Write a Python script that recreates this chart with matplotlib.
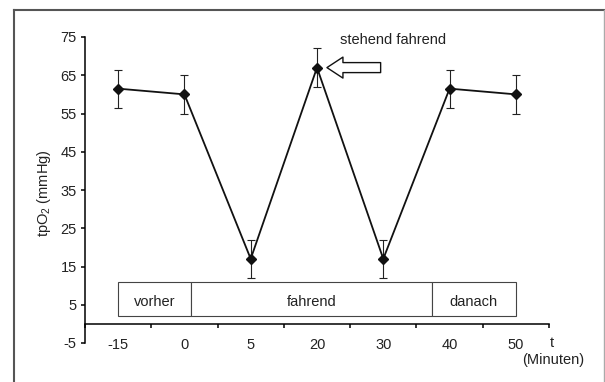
import matplotlib
matplotlib.use("Agg")
import matplotlib.pyplot as plt
from matplotlib.patches import Rectangle
from matplotlib.lines import Line2D

plt.rcParams['font.family'] = ['Liberation Sans', 'DejaVu Sans']
plt.rcParams['axes.unicode_minus'] = False
plt.rcParams['mathtext.default'] = 'regular'

# Daten aus dem Diagramm
zeit_labels = ["-15", "0", "5", "20", "30", "40", "50"]
tpo2_mittel = [61.5, 60, 17, 67, 17, 61.5, 60]
tpo2_fehler = [5, 5, 5, 5, 5, 5, 5]

# Phasen-Kasten (Kategorie-Koordinaten)
phasen = ["vorher", "fahrend", "danach"]
phasen_grenzen = [0, 1.1, 4.73, 6]
kasten_unten, kasten_oben = 2, 11

y_ticks = [-5, 5, 15, 25, 35, 45, 55, 65, 75]

FS = 10.5
TXT = '#222222'

fig = plt.figure(figsize=(6.05, 3.82), dpi=100)
W, H = 605, 382
ax = fig.add_axes([85 / W, 1 - 343 / H, 464 / W, 306 / H])

x = list(range(len(zeit_labels)))
ax.errorbar(x, tpo2_mittel, yerr=tpo2_fehler, fmt='none', ecolor='#222222',
            elinewidth=0.8, capsize=3, capthick=0.8, zorder=3)
ax.plot(x, tpo2_mittel, color='#111111', lw=1.3, marker='D', markersize=5,
        markerfacecolor='#111111', markeredgecolor='#111111', zorder=4)

ax.set_xlim(-0.5, len(x) - 0.5)
ax.set_ylim(-5, 75)

# Achsen im Excel-Stil
for s in ['top', 'right']:
    ax.spines[s].set_visible(False)
ax.spines['bottom'].set_position(('data', 0))
ax.spines['bottom'].set_linewidth(1.1)
ax.spines['left'].set_linewidth(1.1)

ax.set_yticks(y_ticks)
ax.tick_params(axis='y', direction='out', length=3, width=1.1, pad=3,
               labelsize=FS, labelcolor=TXT)
ax.set_xticks(x)
ax.set_xticklabels(zeit_labels)
ax.set_xticks([i + 0.5 for i in range(-1, len(x))], minor=True)
ax.tick_params(axis='x', which='major', length=0, pad=10.5,
               labelsize=FS, labelcolor=TXT)
ax.tick_params(axis='x', which='minor', direction='out', length=3, width=1.1)

ax.set_ylabel('tpO$_2$ (mmHg)', fontsize=FS, color=TXT)
ax.yaxis.set_label_coords(-0.07, 0.49)

# Phasen-Kasten
for i, name in enumerate(phasen):
    x0, x1 = phasen_grenzen[i], phasen_grenzen[i + 1]
    ax.add_patch(Rectangle((x0, kasten_unten), x1 - x0, kasten_oben - kasten_unten,
                           facecolor='white', edgecolor='#444444', lw=0.8, zorder=2))
    ax.text((x0 + x1) / 2, 5.6, name, ha='center', va='center',
            fontsize=FS, color=TXT, zorder=5)

# Pfeil mit Beschriftung
ax.annotate('', xy=(3.15, tpo2_mittel[3]), xytext=(3.96, tpo2_mittel[3]),
            arrowprops=dict(arrowstyle='simple,head_length=0.8,head_width=1.05,tail_width=0.5',
                            mutation_scale=14.4, fc='white', ec='#111111', lw=1.0,
                            shrinkA=0, shrinkB=0))
ax.text(4.15, 74.2, 'stehend fahrend', ha='center', va='center', fontsize=FS,
        color=TXT)

ax.text(6.54, -5, 't', ha='center', va='center', fontsize=FS, color=TXT,
        clip_on=False)
ax.text(6.56, -9.5, '(Minuten)', ha='center', va='center', fontsize=FS,
        color=TXT, clip_on=False)

# Rahmen um das Diagramm
fig.add_artist(Line2D([14 / W, 14 / W], [0, 1 - 9.5 / H], transform=fig.transFigure,
                      color='#555555', lw=1.5))
fig.add_artist(Line2D([14 / W, 604 / W], [1 - 9.5 / H, 1 - 9.5 / H],
                      transform=fig.transFigure, color='#555555', lw=1.5))
fig.add_artist(Line2D([604 / W, 604 / W], [0, 1 - 9.5 / H], transform=fig.transFigure,
                      color='#aaaaaa', lw=1.0))

fig.savefig('out.png', dpi=100)
